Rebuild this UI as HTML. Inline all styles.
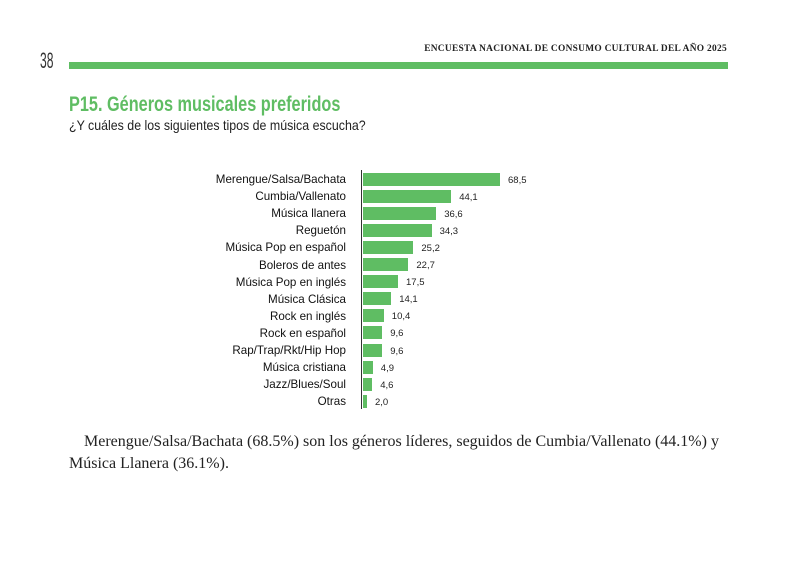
<!DOCTYPE html>
<html><head><meta charset="utf-8"><style>
body{margin:0;width:792px;height:582px;background:#fff;position:relative;overflow:hidden;font-family:"Liberation Sans",sans-serif}
.a{position:absolute;white-space:nowrap}
.lab{position:absolute;right:446px;font-size:11.6px;color:#111;line-height:17px}
.bar{position:absolute;left:363px;height:13px;background:#5fbd63}
.val{position:absolute;font-size:9.5px;color:#222;line-height:17px}
</style></head><body>
<div class="a" style="left:40px;top:48px;font-size:22px;color:#333;transform:scaleX(0.55);transform-origin:left">38</div>
<div class="a" style="right:65px;top:44px;font-family:'Liberation Serif',serif;font-weight:bold;font-size:9.4px;letter-spacing:0.3px;color:#222">ENCUESTA NACIONAL DE CONSUMO CULTURAL DEL AÑO 2025</div>
<div class="a" style="left:69px;top:62px;width:659px;height:7px;background:#5fbd63"></div>
<div class="a" style="left:69px;top:93px;font-size:21px;font-weight:bold;color:#5fbd63;transform:scaleX(0.775);transform-origin:left">P15. Géneros musicales preferidos</div>
<div class="a" style="left:69px;top:117px;font-size:14px;color:#222;transform:scaleX(0.885);transform-origin:left">¿Y cuáles de los siguientes tipos de música escucha?</div>
<div class="a" style="left:361px;top:170px;width:1.3px;height:239px;background:#333"></div>
<div id="c"></div>
<div class="a" style="left:69px;top:431px;font-family:'Liberation Serif',serif;font-size:16px;color:#222;line-height:22px;white-space:normal;width:665px;text-indent:15px">Merengue/Salsa/Bachata (68.5%) son los géneros líderes, seguidos de Cumbia/Vallenato (44.1%) y Música Llanera (36.1%).</div>
<script>
var d=[["Merengue/Salsa/Bachata",68.5],["Cumbia/Vallenato",44.1],["Música llanera",36.6],["Reguetón",34.3],["Música Pop en español",25.2],["Boleros de antes",22.7],["Música Pop en inglés",17.5],["Música Clásica",14.1],["Rock en inglés",10.4],["Rock en español",9.6],["Rap/Trap/Rkt/Hip Hop",9.6],["Música cristiana",4.9],["Jazz/Blues/Soul",4.6],["Otras",2.0]];
var h="";d.forEach(function(r,i){var c=179+i*17.1;var w=r[1]*2;
h+='<div class="lab" style="top:'+(c-8)+'px">'+r[0]+'</div><div class="bar" style="top:'+(c-6.5)+'px;width:'+w+'px"></div><div class="val" style="left:'+(363+w+8)+'px;top:'+(c-7.5)+'px">'+r[1].toFixed(1).replace('.',',')+'</div>';});
document.getElementById('c').innerHTML=h;
</script>
</body></html>
